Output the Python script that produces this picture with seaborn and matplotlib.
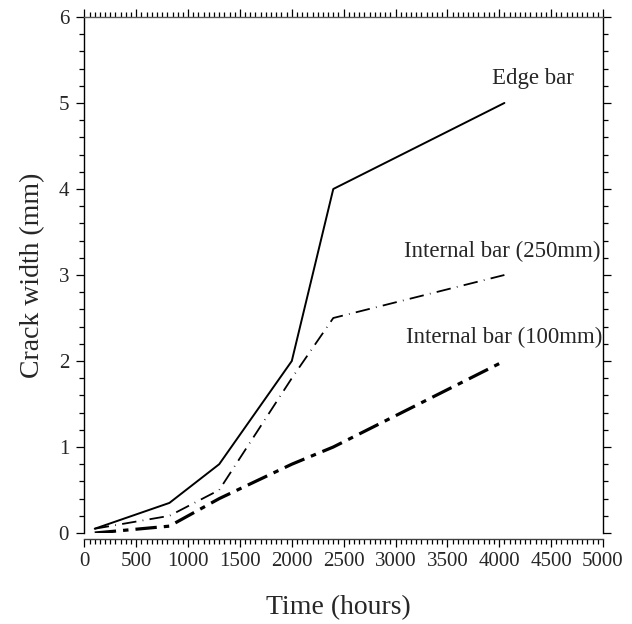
import matplotlib
matplotlib.use("Agg")
import matplotlib.pyplot as plt
from matplotlib.ticker import MultipleLocator
import seaborn as sns
import pandas as pd

# Data
edge_x = [100, 820, 1300, 2000, 2400, 4050]
edge_y = [0.05, 0.35, 0.8, 2.0, 4.0, 5.0]

int250_x = [100, 820, 1300, 2000, 2400, 4050]
int250_y = [0.05, 0.2, 0.5, 1.8, 2.5, 3.0]

int100_x = [100, 820, 1300, 2000, 2400, 4050]
int100_y = [0.0, 0.08, 0.4, 0.8, 1.0, 2.0]

labels = ["Edge bar", "Internal bar (250mm)", "Internal bar (100mm)"]

sns.set_theme(style="ticks")
plt.rcParams["font.family"] = ["Liberation Serif", "DejaVu Serif"]

fig = plt.figure(figsize=(6.32, 6.24), dpi=100)
ax = fig.add_axes([0.1335, 0.1458, 0.8205, 0.827])

df_edge = pd.DataFrame({"x": edge_x, "y": edge_y})
df_250 = pd.DataFrame({"x": int250_x, "y": int250_y})
df_100 = pd.DataFrame({"x": int100_x, "y": int100_y})

sns.lineplot(data=df_edge, x="x", y="y", ax=ax, color="black", lw=1.4,
             estimator=None, sort=False)
sns.lineplot(data=df_250, x="x", y="y", ax=ax, color="black", lw=1.3,
             estimator=None, sort=False,
             linestyle=(0, (8, 3.5, 0.4, 3.5)))
sns.lineplot(data=df_100, x="x", y="y", ax=ax, color="black", lw=2.3,
             estimator=None, sort=False,
             linestyle=(0, (6.7, 2.2, 1.7, 2.2)))

ax.set_xlim(0, 5000)
ax.set_ylim(0, 6)
ax.xaxis.set_major_locator(MultipleLocator(500))
ax.xaxis.set_minor_locator(MultipleLocator(50))
ax.yaxis.set_major_locator(MultipleLocator(1))
ax.yaxis.set_minor_locator(MultipleLocator(0.2))

for s in ["left", "right", "top", "bottom"]:
    ax.spines[s].set_visible(True)
    ax.spines[s].set_color("black")
    ax.spines[s].set_linewidth(1.0)
ax.spines["top"].set_color("0.35")
ax.spines["bottom"].set_color("0.25")
ax.spines["bottom"].set_position(("outward", 4))

ax.tick_params(axis="both", which="both", direction="out", color="black",
               labelsize=15, width=0.9)
ax.tick_params(axis="x", which="both", top=True, bottom=True)
ax.tick_params(axis="y", which="both", left=True, right=True)
ax.tick_params(which="major", length=6)
ax.tick_params(which="minor", length=3.5)
ax.tick_params(axis="x", which="major", pad=4)
ax.tick_params(axis="y", which="major", pad=5)

ax.set_xlabel("Time (hours)", fontsize=20)
ax.set_ylabel("Crack width (mm)", fontsize=20)
ax.xaxis.set_label_coords(0.49, -0.145)
ax.xaxis.label.set_va("center")
ax.yaxis.set_label_coords(-0.1, 0.5)
ax.yaxis.label.set_va("center")

ax.text(4717, 5.29, labels[0], ha="right", va="center", fontsize=16.5)
ax.text(4975, 3.27, labels[1], ha="right", va="center", fontsize=16.5)
ax.text(4990, 2.27, labels[2], ha="right", va="center", fontsize=16.5)

ax.set_facecolor("white")
fig.patch.set_facecolor("white")
fig.savefig("out.png", dpi=100)
